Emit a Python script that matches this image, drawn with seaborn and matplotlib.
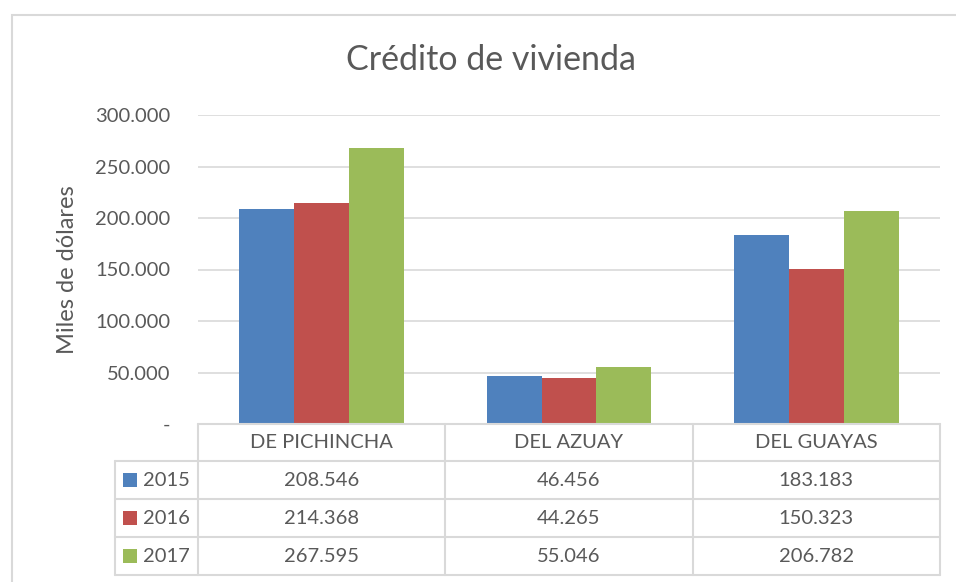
import numpy as np
import pandas as pd
import matplotlib
matplotlib.use("Agg")
import matplotlib.pyplot as plt
import matplotlib.transforms as mtransforms
from matplotlib.lines import Line2D
from matplotlib.patches import Rectangle
import seaborn as sns

# Data
# ==============================================================================
provincias = ["DE PICHINCHA", "DEL AZUAY", "DEL GUAYAS"]
anios = ["2015", "2016", "2017"]
v2015 = [208546, 46456, 183183]
v2016 = [214368, 44265, 150323]
v2017 = [267595, 55046, 206782]
yticks = [0, 50000, 100000, 150000, 200000, 250000, 300000]

colores = ["#4F81BD", "#C0504D", "#9BBB59"]
texto = "#595959"
linea = "#D9D9D9"

df = pd.DataFrame({
    "provincia": provincias * 3,
    "anio": [a for a in anios for _ in provincias],
    "valor": v2015 + v2016 + v2017,
})


def fmt_miles(v):
    if v == 0:
        return "-"
    return f"{v:,.0f}".replace(",", ".")


# Figure
# ==============================================================================
sns.set_style("white")
plt.rcParams["font.family"] = ["Lato", "DejaVu Sans"]

W, H = 956, 582
fig = plt.figure(figsize=(W / 100, H / 100), dpi=100)


def fx(x):
    return x / W


def fy(y):
    return 1 - y / H


ax = fig.add_axes([fx(198), fy(424), fx(940) - fx(198), fy(115) - fy(424)])

sns.barplot(
    data=df, x="provincia", y="valor", hue="anio",
    palette=colores, width=0.667, gap=0, saturation=1,
    linewidth=0, ax=ax,
)
ax.legend_.remove()
ax.set_xlim(-0.5, 2.5)
ax.set_ylim(0, 300000)
ax.set_yticks(yticks)
ax.set_yticklabels([fmt_miles(v) for v in yticks], color=texto, fontsize=14.5)
ax.tick_params(axis="y", length=0, pad=20)
ax.set_xticks([])
ax.set_xlabel("")
ax.set_ylabel("Miles de dólares", fontsize=17, color=texto)
ax.yaxis.set_label_coords(-0.162, 0.5)
ax.grid(axis="y", color=linea, linewidth=1.2)
ax.set_axisbelow(True)
for s in ax.spines.values():
    s.set_visible(False)

fig.text(fx(491), fy(60), "Crédito de vivienda", ha="center", va="center",
         fontsize=24.5, color=texto)

# Chart border
fig.add_artist(Rectangle((fx(12), fy(590)), fx(1000) - fx(12), fy(15) - fy(590),
                         transform=fig.transFigure, fill=False,
                         edgecolor=linea, linewidth=1.5))

# Data table below the axis
# ==============================================================================
trans = mtransforms.blended_transform_factory(ax.transData, fig.transFigure)
filas = [424, 461, 499, 537, 575]
lw = 1.5

# horizontal lines
fig.add_artist(Line2D([-0.5, 2.5], [fy(filas[0])] * 2, transform=trans, color=linea, lw=lw))
for yy in filas[1:]:
    fig.add_artist(Line2D([fx(115), fx(940)], [fy(yy)] * 2,
                          transform=fig.transFigure, color=linea, lw=lw))
# vertical lines
for xx in [-0.5, 0.5, 1.5, 2.5]:
    fig.add_artist(Line2D([xx, xx], [fy(filas[0]), fy(filas[-1])],
                          transform=trans, color=linea, lw=lw))
fig.add_artist(Line2D([fx(115), fx(115)], [fy(filas[1]), fy(filas[-1])],
                      transform=fig.transFigure, color=linea, lw=lw))

# header
for i, p in enumerate(provincias):
    fig.text(i, fy((filas[0] + filas[1]) / 2), p, transform=trans,
             ha="center", va="center", fontsize=14.5, color=texto)

# rows
for r, (anio, vals) in enumerate(zip(anios, [v2015, v2016, v2017])):
    yc = fy((filas[r + 1] + filas[r + 2]) / 2)
    fig.add_artist(Rectangle((fx(123), yc - 7 / H), fx(137) - fx(123), 14 / H,
                             transform=fig.transFigure, facecolor=colores[r],
                             edgecolor="none"))
    fig.text(fx(143), yc, anio, ha="left", va="center", fontsize=14.5, color=texto)
    for i, v in enumerate(vals):
        fig.text(i, yc, fmt_miles(v), transform=trans,
                 ha="center", va="center", fontsize=14.5, color=texto)

plt.savefig("out.png", dpi=100)
